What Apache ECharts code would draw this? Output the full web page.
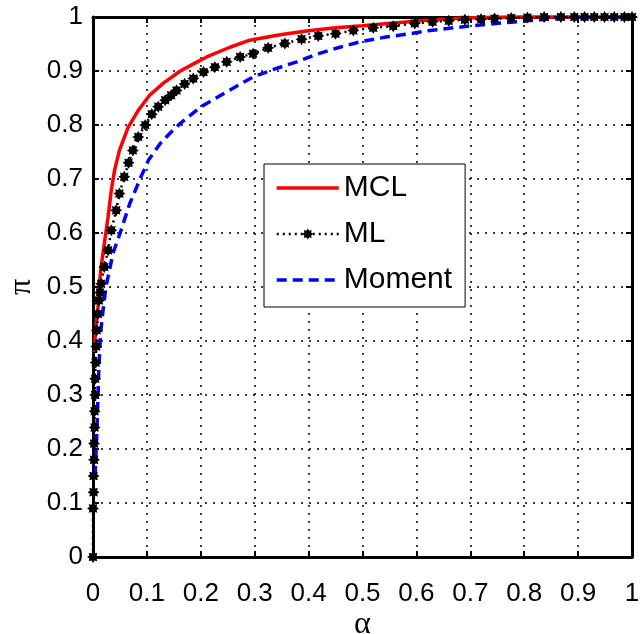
<!DOCTYPE html>
<html>
<head>
<meta charset="utf-8">
<script src="https://cdn.jsdelivr.net/npm/echarts@6/dist/echarts.min.js"></script>
<style>
html,body{margin:0;padding:0;background:#fff;}
#chart{width:642px;height:634px;}
</style>
</head>
<body>
<div id="chart"></div>
<script>
// ---- data ----
var seriesNames = ['MCL', 'ML', 'Moment'];
var xTicks = [0, 0.1, 0.2, 0.3, 0.4, 0.5, 0.6, 0.7, 0.8, 0.9, 1];
var yTicks = [0, 0.1, 0.2, 0.3, 0.4, 0.5, 0.6, 0.7, 0.8, 0.9, 1];

var mclAlpha = [0.002, 0.005, 0.008, 0.011, 0.012, 0.015, 0.021, 0.028, 0.034, 0.040, 0.049, 0.065, 0.084, 0.105, 0.13, 0.162, 0.19, 0.211, 0.254, 0.291, 0.347, 0.403, 0.45, 0.50, 0.569, 0.62, 0.67, 0.72, 0.80, 0.90, 1.0];
var mclPi    = [0.38, 0.42, 0.45, 0.48, 0.506, 0.537, 0.58, 0.63, 0.679, 0.716, 0.753, 0.795, 0.827, 0.855, 0.877, 0.90, 0.915, 0.926, 0.944, 0.957, 0.967, 0.975, 0.98, 0.984, 0.99, 0.994, 0.997, 0.999, 1.0, 1.0, 1.0];

var mlAlpha = [0, 0, 0.001, 0.001, 0.002, 0.002, 0.003, 0.003, 0.004, 0.004, 0.005, 0.006, 0.007, 0.009, 0.011, 0.013, 0.015, 0.021, 0.028, 0.034, 0.043, 0.049, 0.058, 0.066, 0.074, 0.084, 0.097, 0.109, 0.121, 0.134, 0.145, 0.155, 0.17, 0.186, 0.205, 0.226, 0.248, 0.273, 0.297, 0.325, 0.356, 0.387, 0.418, 0.45, 0.483, 0.52, 0.557, 0.597, 0.63, 0.66, 0.69, 0.72, 0.745, 0.776, 0.806, 0.837, 0.868, 0.893, 0.912, 0.93, 0.949, 0.967, 0.986, 1.0];
var mlPi    = [0, 0.09, 0.12, 0.15, 0.18, 0.21, 0.24, 0.27, 0.30, 0.33, 0.36, 0.39, 0.42, 0.45, 0.475, 0.49, 0.506, 0.537, 0.568, 0.605, 0.642, 0.673, 0.704, 0.73, 0.753, 0.778, 0.80, 0.82, 0.834, 0.846, 0.855, 0.864, 0.876, 0.886, 0.898, 0.907, 0.917, 0.926, 0.932, 0.943, 0.951, 0.959, 0.965, 0.969, 0.975, 0.98, 0.983, 0.988, 0.991, 0.993, 0.995, 0.996, 0.997, 0.998, 0.999, 1, 1, 1, 1, 1, 1, 1, 1, 1];

var momAlpha = [0.004, 0.005, 0.007, 0.009, 0.011, 0.014, 0.019, 0.024, 0.028, 0.037, 0.052, 0.068, 0.089, 0.103, 0.125, 0.145, 0.162, 0.199, 0.242, 0.297, 0.338, 0.378, 0.415, 0.458, 0.495, 0.544, 0.588, 0.625, 0.705, 0.77, 0.83, 0.90, 1.0];
var momPi    = [0.15, 0.18, 0.228, 0.29, 0.352, 0.414, 0.46, 0.50, 0.519, 0.562, 0.605, 0.654, 0.704, 0.735, 0.766, 0.787, 0.803, 0.833, 0.858, 0.889, 0.904, 0.917, 0.931, 0.944, 0.954, 0.963, 0.969, 0.975, 0.984, 0.99, 0.995, 0.999, 1.0];

function zip(xs, ys) { return xs.map(function (x, i) { return [x, ys[i]]; }); }

var starPath = 'path://M20 10 L16 12.5 L17.07 17.07 L12.5 16 L10 20 L7.5 16 L2.93 17.07 L4 12.5 L0 10 L4 7.5 L2.93 2.93 L7.5 4 L10 0 L12.5 4 L17.07 2.93 L16 7.5 Z';

var tickFont = { fontFamily: 'Liberation Sans', fontSize: 26, color: '#000' };

function fmt(v) { return String(Math.round(v * 10) / 10); }

var chart = echarts.init(document.getElementById('chart'), null, { renderer: 'canvas' });
chart.setOption({
  animation: false,
  backgroundColor: '#fff',
  grid: { left: 93, right: 10, top: 17, bottom: 77, containLabel: false, outerBoundsMode: 'none' },
  legend: {
    data: [
      { name: seriesNames[0], itemStyle: { opacity: 0 }, lineStyle: { width: 3.5 } },
      { name: seriesNames[1], lineStyle: { width: 2.5 } },
      { name: seriesNames[2], itemStyle: { opacity: 0 }, lineStyle: { width: 3.5 } }
    ],
    orient: 'vertical',
    left: 264, top: 164,
    padding: [9, 13, 12, 11],
    itemWidth: 62, itemHeight: 14, itemGap: 16,
    backgroundColor: '#fff', borderColor: '#000', borderWidth: 1,
    textStyle: { fontFamily: 'Liberation Sans', fontSize: 30, lineHeight: 30, color: '#000' }
  },
  xAxis: [{
    type: 'value', min: xTicks[0], max: xTicks[xTicks.length - 1], interval: 0.1,
    name: 'α', nameLocation: 'middle', nameGap: 52, nameMoveOverlap: false,
    nameTextStyle: { fontFamily: 'Liberation Serif', fontSize: 32, color: '#000', lineHeight: 32 },
    axisLine: { show: true, onZero: false, lineStyle: { color: '#000', width: 3 } },
    axisTick: { show: true, inside: true, length: 6, lineStyle: { color: '#000', width: 2 } },
    axisLabel: Object.assign({ margin: 24, formatter: fmt }, tickFont),
    splitLine: { show: true, lineStyle: { color: '#000', width: 1.5, type: [2, 6] } }
  }, {
    type: 'value', position: 'top', min: 0, max: 1, interval: 0.1,
    axisLine: { show: true, onZero: false, lineStyle: { color: '#000', width: 3 } },
    axisTick: { show: true, inside: true, length: 6, lineStyle: { color: '#000', width: 2 } },
    axisLabel: { show: false }, splitLine: { show: false }
  }],
  yAxis: [{
    type: 'value', min: yTicks[0], max: yTicks[yTicks.length - 1], interval: 0.1,
    name: 'π', nameLocation: 'middle', nameGap: 55, nameMoveOverlap: false,
    nameTextStyle: { fontFamily: 'Liberation Serif', fontSize: 32, color: '#000' },
    axisLine: { show: true, onZero: false, lineStyle: { color: '#000', width: 3 } },
    axisTick: { show: true, inside: true, length: 6, lineStyle: { color: '#000', width: 2 } },
    axisLabel: Object.assign({ margin: 10, formatter: fmt }, tickFont),
    splitLine: { show: true, lineStyle: { color: '#000', width: 1.5, type: [2, 6] } }
  }, {
    type: 'value', position: 'right', min: 0, max: 1, interval: 0.1,
    axisLine: { show: true, onZero: false, lineStyle: { color: '#000', width: 3 } },
    axisTick: { show: true, inside: true, length: 6, lineStyle: { color: '#000', width: 2 } },
    axisLabel: { show: false }, splitLine: { show: false }
  }],
  series: [{
    name: seriesNames[0], type: 'line', data: zip(mclAlpha, mclPi),
    symbol: 'none', clip: false,
    lineStyle: { color: '#ff0000', width: 3.5 }, itemStyle: { color: '#ff0000' }
  }, {
    name: seriesNames[1], type: 'line', data: zip(mlAlpha, mlPi),
    symbol: starPath, symbolSize: 12, showAllSymbol: true, clip: false,
    lineStyle: { color: '#000', width: 2.5, type: [2, 4] }, itemStyle: { color: '#000' }
  }, {
    name: seriesNames[2], type: 'line', data: zip(momAlpha, momPi),
    symbol: 'none', clip: false,
    lineStyle: { color: '#0000ff', width: 3.5, type: [10, 6] }, itemStyle: { color: '#0000ff' }
  }]
});
</script>
</body>
</html>
